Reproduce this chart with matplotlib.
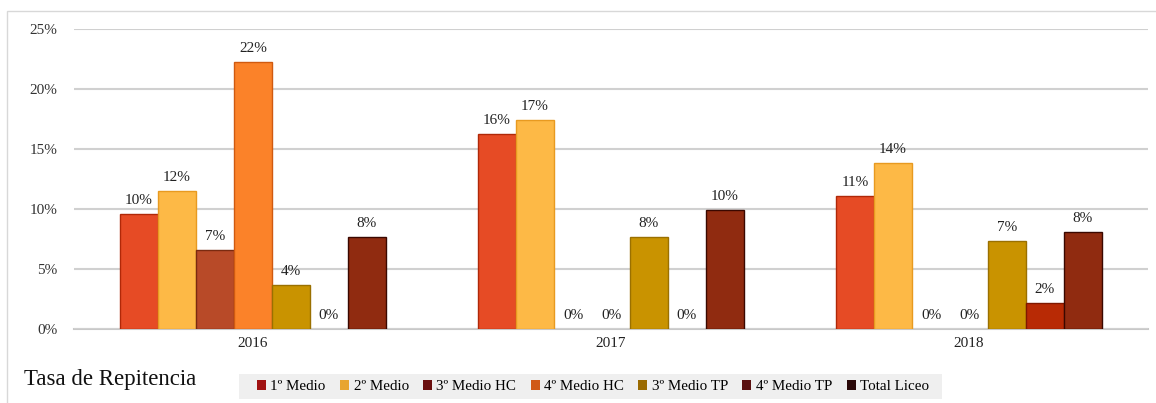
import matplotlib
matplotlib.use("Agg")
import matplotlib.pyplot as plt
import numpy as np
from matplotlib.patches import Rectangle, Patch

years = ["2016", "2017", "2018"]
series = ["1º Medio", "2º Medio", "3º Medio HC", "4º Medio HC", "3º Medio TP", "4º Medio TP", "Total Liceo"]
v_1m = [9.6, 16.2, 11.1]
v_2m = [11.5, 17.4, 13.8]
v_3hc = [6.6, 0.0, 0.0]
v_4hc = [22.2, 0.0, 0.0]
v_3tp = [3.7, 7.7, 7.3]
v_4tp = [0.0, 0.0, 2.2]
v_tot = [7.7, 9.9, 8.1]
values = [v_1m, v_2m, v_3hc, v_4hc, v_3tp, v_4tp, v_tot]
labels = [["10%", "16%", "11%"], ["12%", "17%", "14%"], ["7%", "0%", "0%"],
          ["22%", "0%", "0%"], ["4%", "8%", "7%"], ["0%", "0%", "2%"], ["8%", "10%", "8%"]]

bar_colors = ["#E64B25", "#FDB946", "#B84A28", "#FB8229", "#C99300", "#B82A05", "#902B10"]
edge_colors = ["#B02808", "#E89A20", "#7A2A10", "#D05A10", "#9A7000", "#801800", "#3A0800"]
legend_colors = ["#A01212", "#E8A530", "#6B1010", "#D05A18", "#9A6A00", "#5A1010", "#2A0808"]

plt.rcParams['font.family'] = ['Liberation Serif', 'DejaVu Serif']

fig = plt.figure(figsize=(11.56, 4.03), dpi=100)
fig.patches.append(Rectangle((7/1156, -0.1), 1.2, (403-11)/403 + 0.1, transform=fig.transFigure,
                             fill=False, edgecolor="#D8D8D8", linewidth=1.0))
ax = fig.add_axes([74/1156, 1-329/403, (1148-74)/1156, (329-28.7)/403])

n = len(series)
group_w = 0.743
bw = group_w / n
x = np.arange(len(years))
for i in range(n):
    pos = x - group_w/2 + bw*(i+0.5)
    vals = np.array(values[i]) / 100.0
    lw = [1.0 if v > 0 else 0.0 for v in vals]
    ax.bar(pos, vals, width=bw, color=bar_colors[i], edgecolor=edge_colors[i], linewidth=lw, zorder=3)
    for p, v, lab in zip(pos, vals, labels[i]):
        ax.annotate(lab, (p, v), xytext=(0, 5), textcoords="offset points",
                    ha="center", va="bottom", fontsize=11, color="#222222", zorder=4)

ax.set_ylim(0, 0.25)
ax.set_xlim(-0.5, 2.5)
ax.set_yticks([0, 0.05, 0.10, 0.15, 0.20, 0.25])
ax.set_yticklabels(["0%", "5%", "10%", "15%", "20%", "25%"], fontsize=11, color="#333333")
ax.set_xticks(x)
ax.set_xticklabels(years, fontsize=11, color="#222222")
ax.tick_params(axis="both", length=0)
ax.tick_params(axis="y", pad=12)
ax.tick_params(axis="x", pad=6)
ax.grid(axis="y", color="#D0D0D0", linewidth=1.5, zorder=0)
for s in ["top", "right", "left"]:
    ax.spines[s].set_visible(False)
ax.spines["bottom"].set_color("#C8C8C8")
ax.spines["bottom"].set_linewidth(1.5)
ax.spines["bottom"].set_zorder(1)

fig.text(24/1156, 1-379/403, "Tasa de Repitencia", fontsize=16.5, va="center", ha="left", color="#111111")

fig.patches.append(Rectangle((239/1156, 1-399/403), (942-239)/1156, 25/403, transform=fig.transFigure,
                             facecolor="#EFEFEF", edgecolor="none"))
handles = [Patch(facecolor=c, edgecolor="none") for c in legend_colors]
leg = fig.legend(handles, series, loc="center", bbox_to_anchor=(593/1156, 1-386.5/403), ncol=7,
                 frameon=False, fontsize=10.8, handlelength=0.6, handleheight=0.6,
                 handletextpad=0.3, columnspacing=0.95)

fig.savefig("out.png", dpi=100)
